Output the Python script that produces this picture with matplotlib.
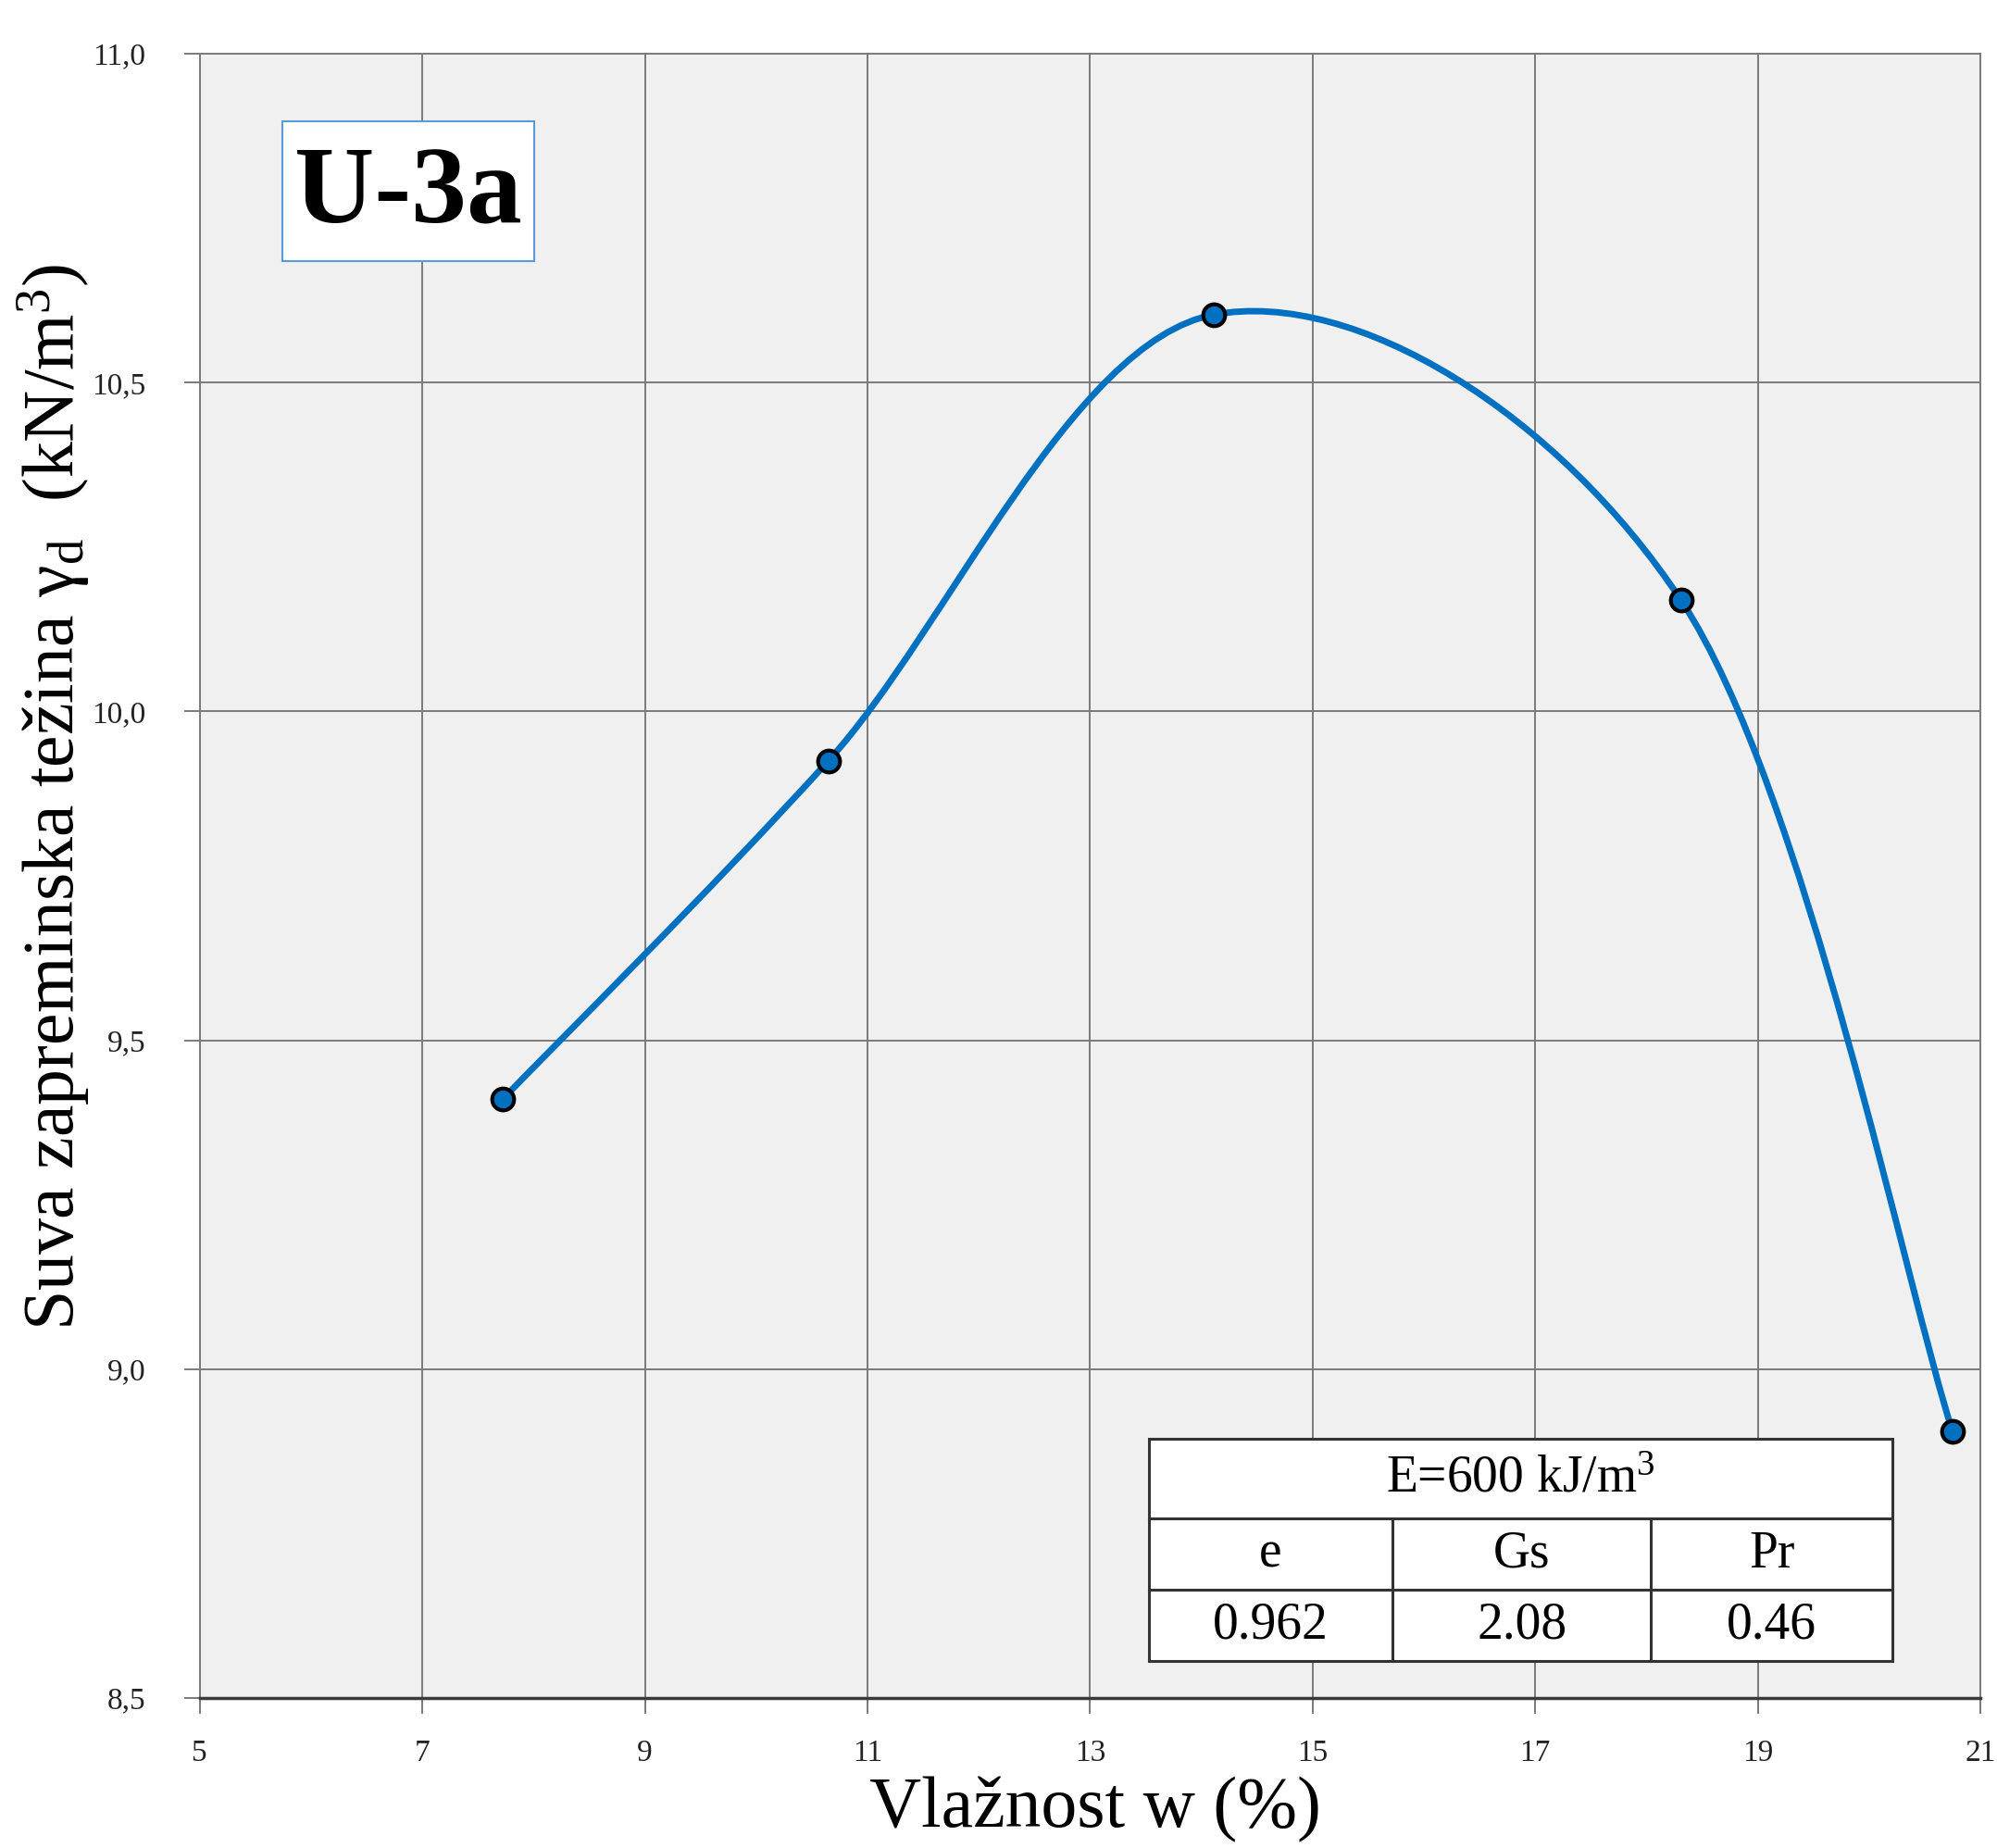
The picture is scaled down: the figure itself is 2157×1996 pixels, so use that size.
import numpy as np
import matplotlib.pyplot as plt
from matplotlib.path import Path
from matplotlib.patches import PathPatch, Rectangle

plt.rcParams['font.family'] = ['Liberation Serif', 'DejaVu Serif']
plt.rcParams['mathtext.fontset'] = 'custom'
plt.rcParams['mathtext.rm'] = 'Liberation Serif'
plt.rcParams['mathtext.it'] = 'Liberation Serif:italic'

# measured points: moisture w (%) and dry unit weight (kN/m3)
moisture = [7.72, 10.65, 14.11, 18.31, 20.75]
dry_weight = [9.41, 9.925, 10.603, 10.169, 8.905]

x_ticks = [5, 7, 9, 11, 13, 15, 17, 19, 21]
y_ticks = [8.5, 9.0, 9.5, 10.0, 10.5, 11.0]
y_tick_labels = ['8,5', '9,0', '9,5', '10,0', '10,5', '11,0']

sample_name = 'U-3a'
energy_label = 'E=600 kJ/m$^{3}$'
param_names = ['e', 'Gs', 'Pr']
param_values = ['0.962', '2.08', '0.46']

BLUE = '#0070c0'
GRID = '#7a7a7a'


def smooth_path(xs, ys):
    """Excel-like smoothed line: cubic bezier segments through the points."""
    pts = np.column_stack([xs, ys])
    n = len(pts)
    verts = [pts[0]]
    codes = [Path.MOVETO]
    for i in range(n - 1):
        p_prev = pts[max(i - 1, 0)]
        p_after = pts[min(i + 2, n - 1)]
        c1 = pts[i] + (pts[i + 1] - p_prev) / 6
        c2 = pts[i + 1] - (p_after - pts[i]) / 6
        verts += [c1, c2, pts[i + 1]]
        codes += [Path.CURVE4] * 3
    return Path(verts, codes)


fig = plt.figure(figsize=(21.57, 19.96), dpi=100)
ax = fig.add_axes([0.100, 0.0812, 0.8917, 0.8898])
ax.set_facecolor('#f0f0f0')

ax.set_xlim(x_ticks[0], x_ticks[-1])
ax.set_ylim(y_ticks[0], y_ticks[-1])
ax.set_xticks(x_ticks)
ax.set_xticklabels([str(t) for t in x_ticks])
ax.set_yticks(y_ticks)
ax.set_yticklabels(y_tick_labels)
ax.grid(True, color=GRID, lw=1.4)
ax.set_axisbelow(True)
ax.tick_params(axis='both', length=12, width=1.4, color=GRID, labelsize=24,
               labelcolor='#222222')
ax.tick_params(axis='x', pad=20)
ax.tick_params(axis='y', pad=30)

for side in ['left', 'top', 'right']:
    ax.spines[side].set_color(GRID)
    ax.spines[side].set_linewidth(1.4)
ax.spines['bottom'].set_color('#3a3a3a')
ax.spines['bottom'].set_linewidth(2.5)

# curve + points
curve = PathPatch(smooth_path(moisture, dry_weight), facecolor='none',
                  edgecolor=BLUE, lw=5, capstyle='round', zorder=4)
ax.add_patch(curve)
ax.plot(moisture, dry_weight, 'o', ms=17, mfc=BLUE, mec='black', mew=3, zorder=5)

# axis titles
ax.text(0.503, -0.068, 'Vlažnost w (%)', transform=ax.transAxes,
        ha='center', va='center', fontsize=56)
ax.text(-0.082, 0.548, 'Suva zapreminska težina γ$_{\\mathrm{d}}$  (kN/m$^{3}$)',
        transform=ax.transAxes, rotation=90, ha='center', va='center', fontsize=56)

# sample label box
ax.add_patch(Rectangle((0.0463, 0.874), 0.1417, 0.085, transform=ax.transAxes,
                       facecolor='white', edgecolor='#5b9bd5', lw=1.5, zorder=6))
ax.text(0.117, 0.913, sample_name, transform=ax.transAxes, ha='center', va='center',
        fontsize=86, fontweight='bold', zorder=7)

# parameter table
tx0, tx1 = 0.533, 0.9506
ty0, ty1 = 0.0225, 0.1577
row_y = [0.0659, 0.109]
col_x = [0.670, 0.815]
ax.add_patch(Rectangle((tx0, ty0), tx1 - tx0, ty1 - ty0, transform=ax.transAxes,
                       facecolor='white', edgecolor='#333333', lw=2.2, zorder=6))
for yy in row_y:
    ax.plot([tx0, tx1], [yy, yy], transform=ax.transAxes, color='#333333', lw=2.2, zorder=7)
for xx in col_x:
    ax.plot([xx, xx], [ty0, row_y[1]], transform=ax.transAxes, color='#333333', lw=2.2, zorder=7)

ax.text((tx0 + tx1) / 2, (row_y[1] + ty1) / 2, energy_label, transform=ax.transAxes,
        ha='center', va='center', fontsize=40, zorder=8)
col_edges = [tx0] + col_x + [tx1]
for i in range(3):
    cx = (col_edges[i] + col_edges[i + 1]) / 2
    ax.text(cx, (row_y[0] + row_y[1]) / 2, param_names[i], transform=ax.transAxes,
            ha='center', va='center', fontsize=40, zorder=8)
    ax.text(cx, (ty0 + row_y[0]) / 2, param_values[i], transform=ax.transAxes,
            ha='center', va='center', fontsize=40, zorder=8)

fig.savefig('out.png', dpi=100)
